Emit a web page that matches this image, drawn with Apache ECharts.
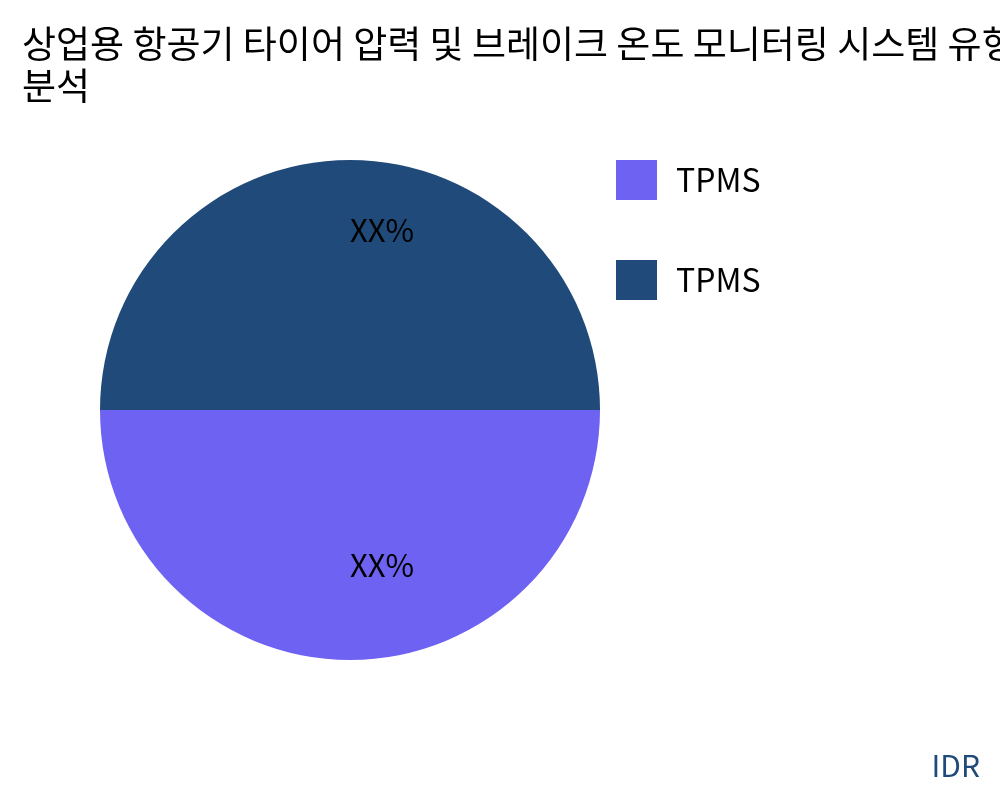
<!DOCTYPE html>
<html>
<head>
<meta charset="utf-8">
<script src="https://cdn.jsdelivr.net/npm/echarts@6/dist/echarts.min.js"></script>
<style>
  html, body { margin: 0; padding: 0; background: #fff; }
  #chart { width: 1000px; height: 800px; }
</style>
</head>
<body>
<div id="chart"></div>
<script>
// 데이터
const categories = ['TPMS', 'TPMS']
const shares = [50, 50]
const shareLabels = ['XX%', 'XX%']
const sliceColors = ['#6e62f2', '#1f4a79']

const font = '"Noto Sans CJK KR", "Noto Sans", sans-serif'

// 범례에서 같은 이름이 합쳐지지 않도록 번호를 붙임
const pieData = categories.map((c, i) => ({
  name: c + '#' + i,
  value: shares[i],
  itemStyle: { color: sliceColors[i] }
}))

const chart = echarts.init(document.getElementById('chart'))

chart.setOption({
  animation: false,
  title: {
    text: '상업용 항공기 타이어 압력 및 브레이크 온도 모니터링 시스템 유형별 시장\n분석',
    left: 17,
    top: 18,
    textStyle: { fontFamily: font, fontSize: 37, fontWeight: 'normal', color: '#000', lineHeight: 42 }
  },
  legend: {
    orient: 'vertical',
    left: 611,
    top: 155,
    icon: 'rect',
    itemWidth: 41,
    itemHeight: 40,
    itemGap: 60,
    selectedMode: false,
    formatter: n => n.split('#')[0],
    textStyle: { fontFamily: font, fontSize: 32, color: '#000', padding: [0, 0, 0, 14] }
  },
  graphic: [{
    type: 'text',
    right: 20,
    bottom: 19,
    style: { text: 'IDR', font: '30px ' + font, fill: '#1f4a79' }
  }],
  series: [{
    type: 'pie',
    center: [350, 410],
    radius: 250,
    startAngle: 0,
    clockwise: true,
    silent: true,
    data: pieData,
    label: {
      position: 'inside',
      formatter: p => shareLabels[p.dataIndex],
      fontFamily: font,
      fontSize: 31,
      color: '#000'
    },
    labelLine: { show: false },
    labelLayout: p => ({ dx: 32, dy: p.dataIndex === 1 ? -52 : 27 })
  }]
})
</script>
</body>
</html>
